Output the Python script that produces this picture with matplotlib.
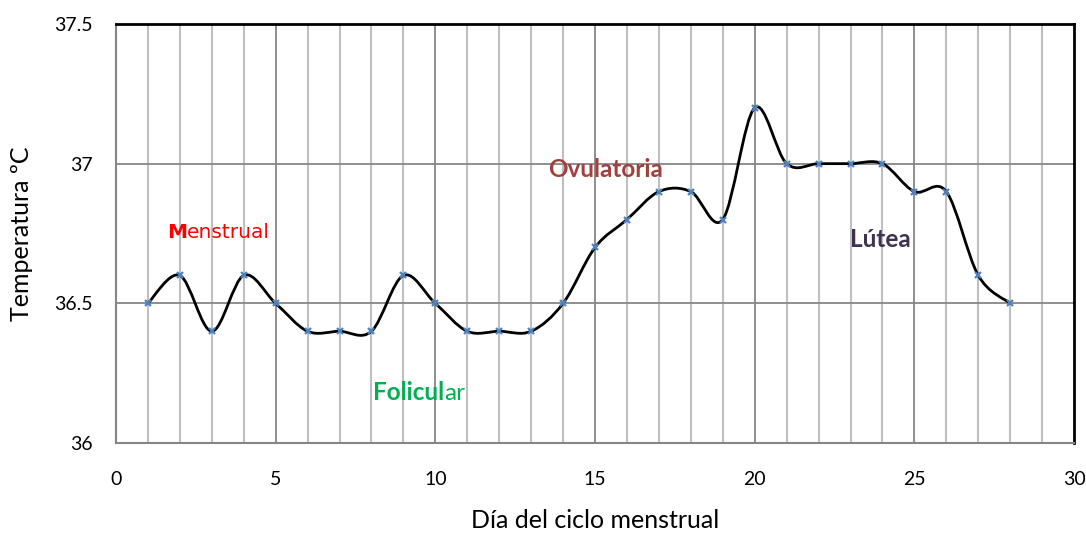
from matplotlib import pyplot as plt
from matplotlib.path import Path
from matplotlib.patches import PathPatch
import numpy as np

plt.rcParams["font.family"] = ["Lato", "DejaVu Sans"]

# ------------------------------------------------------------------------ DATA
days = list(range(1, 29))
temps = [36.5, 36.6, 36.4, 36.6, 36.5, 36.4, 36.4, 36.4, 36.6, 36.5,
         36.4, 36.4, 36.4, 36.5, 36.7, 36.8, 36.9, 36.9, 36.8, 37.2,
         37.0, 37.0, 37.0, 37.0, 36.9, 36.9, 36.6, 36.5]
x_ticks = [0, 5, 10, 15, 20, 25, 30]
y_ticks = [36, 36.5, 37, 37.5]
y_tick_labels = ["36", "36.5", "37", "37.5"]

grid_light = "#bfbfbf"
grid_dark = "#868686"


def smooth_path(x, y):
    # excel-like smoothed line: cubic bezier through each point
    x = np.asarray(x, float)
    y = np.asarray(y, float)
    px = np.concatenate([[x[0]], x, [x[-1]]])
    py = np.concatenate([[y[0]], y, [y[-1]]])
    verts = [(x[0], y[0])]
    codes = [Path.MOVETO]
    for i in range(1, len(x)):
        c1 = (px[i] + (px[i + 1] - px[i - 1]) / 6, py[i] + (py[i + 1] - py[i - 1]) / 6)
        c2 = (px[i + 1] - (px[i + 2] - px[i]) / 6, py[i + 1] - (py[i + 2] - py[i]) / 6)
        verts += [c1, c2, (px[i + 1], py[i + 1])]
        codes += [Path.CURVE4] * 3
    return Path(verts, codes)


# ---------------------------------------------------------------------- Figure
fig = plt.figure(figsize=(10.86, 5.40), dpi=100)
ax = fig.add_axes([0.1068, 0.1796, 0.8822, 0.776])

# grid
for xv in range(0, 31):
    if xv % 5 == 0:
        continue
    ax.axvline(xv, color=grid_light, lw=1.5, zorder=1)
for xv in x_ticks[1:-1]:
    ax.axvline(xv, color=grid_dark, lw=1.3, zorder=1)
for yv in y_ticks[1:-1]:
    ax.axhline(yv, color=grid_dark, lw=1.3, zorder=1)

ax.add_patch(PathPatch(smooth_path(days, temps), fill=False, ec="black", lw=2, zorder=3))
ax.plot(days, temps, ls="none", marker="x", ms=4.5, mew=1.6, color="#4f81bd", zorder=4)

ax.set_xlim(0, 30)
ax.set_ylim(36, 37.5)
ax.set_xticks(x_ticks)
ax.set_yticks(y_ticks)
ax.set_yticklabels(y_tick_labels)
ax.tick_params(length=0, labelsize=14, colors="black")
ax.tick_params(axis="x", pad=20)
ax.tick_params(axis="y", pad=17)

for side in ["left", "bottom"]:
    ax.spines[side].set_color(grid_dark)
    ax.spines[side].set_linewidth(1.5)
for side in ["top", "right"]:
    ax.spines[side].set_color("black")
    ax.spines[side].set_linewidth(2)

ax.set_xlabel("Día del ciclo menstrual", fontsize=18, labelpad=15)
ax.set_ylabel("Temperatura ºC", fontsize=18, labelpad=15)

# ----------------------------------------------------------------- phase texts
t1 = ax.text(1.6, 36.752, "M", color="red", fontsize=14.5, fontweight="bold",
             va="center", ha="left", fontfamily=["DejaVu Sans"])
ax.annotate("enstrual", xy=(1, 0), xycoords=t1, va="bottom", ha="left",
            color="red", fontsize=14.5, fontfamily=["DejaVu Sans"])

t2 = ax.text(8.05, 36.18, "Folicul", color="#00b050", fontsize=17.5, fontweight="bold",
             va="center", ha="left")
ax.annotate("ar", xy=(1, 0), xycoords=t2, va="bottom", ha="left",
            color="#00b050", fontsize=17.5)

ax.text(13.53, 36.98, "Ovulatoria", color="#a0403f", fontsize=17.5, fontweight="bold",
        va="center", ha="left")
ax.text(22.99, 36.73, "Lútea", color="#403151", fontsize=17.5, fontweight="bold",
        va="center", ha="left")

fig.savefig("out.png", dpi=100)
